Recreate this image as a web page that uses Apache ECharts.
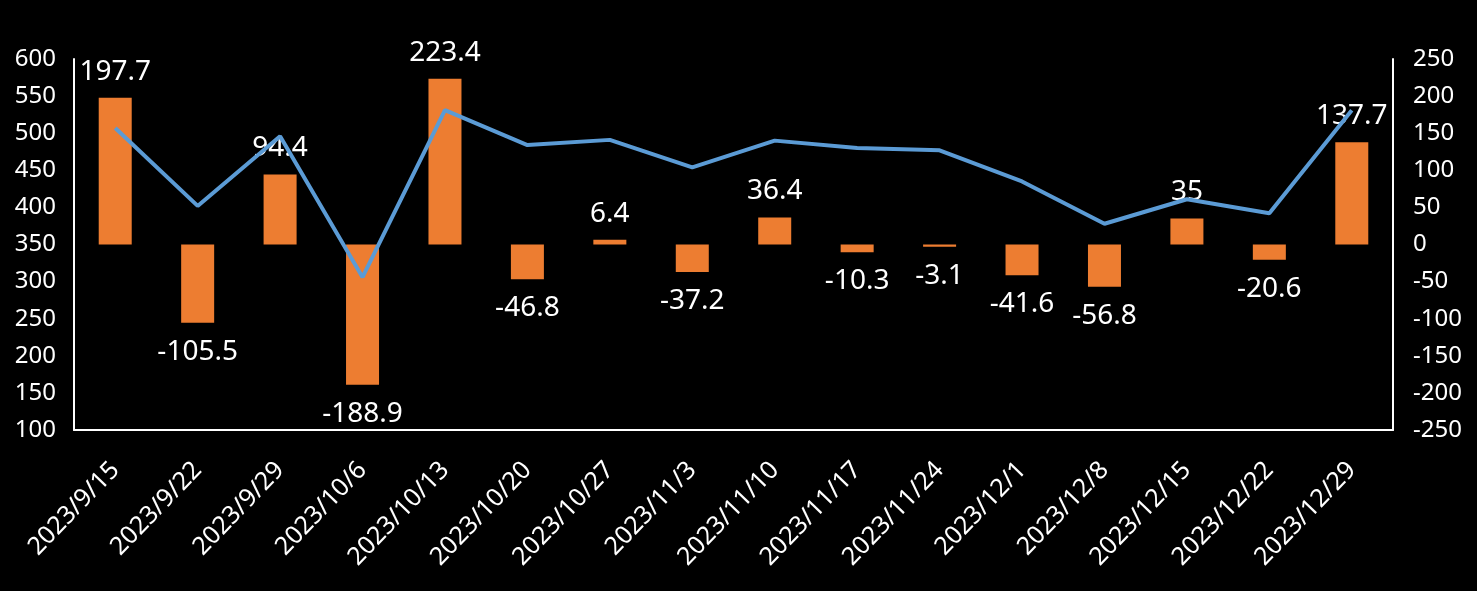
<!DOCTYPE html>
<html>
<head>
<meta charset="utf-8">
<script src="https://cdn.jsdelivr.net/npm/echarts@6/dist/echarts.min.js"></script>
<style>
html,body{margin:0;padding:0;background:#000;}
#c{width:1477px;height:591px;}
</style>
</head>
<body>
<div id="c"></div>
<script>
const categories = ['2023/9/15','2023/9/22','2023/9/29','2023/10/6','2023/10/13','2023/10/20','2023/10/27','2023/11/3','2023/11/10','2023/11/17','2023/11/24','2023/12/1','2023/12/8','2023/12/15','2023/12/22','2023/12/29'];
const barValues = [197.7,-105.5,94.4,-188.9,223.4,-46.8,6.4,-37.2,36.4,-10.3,-3.1,-41.6,-56.8,35,-20.6,137.7];
const lineValues = [507,402,496,306,531,484,491,454,490,480,477,435,378,411,392,531];
const leftTicks = {min:100, max:600, interval:50};
const rightTicks = {min:-250, max:250, interval:50};

const FONT = '"Noto Sans", sans-serif';
const chart = echarts.init(document.getElementById('c'), null, {renderer:'canvas'});
chart.setOption({
  backgroundColor:'#000',
  animation:false,
  grid:{left:74, right:84, top:59, bottom:161, containLabel:false},
  xAxis:{
    type:'category', data:categories, boundaryGap:true,
    axisLine:{onZero:false, lineStyle:{color:'#fff', width:2}},
    axisTick:{show:false},
    axisLabel:{color:'#fff', fontSize:25, fontFamily:FONT, rotate:46, margin:36, interval:0}
  },
  yAxis:[
    {type:'value', min:leftTicks.min, max:leftTicks.max, interval:leftTicks.interval,
     axisLine:{show:true, onZero:false, lineStyle:{color:'#fff', width:2}}, axisTick:{show:false},
     splitLine:{show:false},
     axisLabel:{color:'#fff', fontSize:24, fontFamily:FONT, margin:18}},
    {type:'value', min:rightTicks.min, max:rightTicks.max, interval:rightTicks.interval,
     axisLine:{show:true, onZero:false, lineStyle:{color:'#fff', width:2}}, axisTick:{show:false},
     splitLine:{show:false},
     axisLabel:{color:'#fff', fontSize:24, fontFamily:FONT, margin:20}}
  ],
  series:[
    {type:'bar', yAxisIndex:1, barWidth:33,
     itemStyle:{color:'#ED7D31'},
     data: barValues.map(v => ({value:v, label: v>=0 ? {position:'top', distance:12} : {position:'bottom', distance:15}})),
     label:{show:true, color:'#fff', fontSize:28, fontFamily:FONT},
     z:2},
    {type:'line', yAxisIndex:0, data:lineValues, showSymbol:false, symbol:'none',
     lineStyle:{color:'#5B9BD5', width:4}, z:3}
  ]
});
</script>
</body>
</html>
